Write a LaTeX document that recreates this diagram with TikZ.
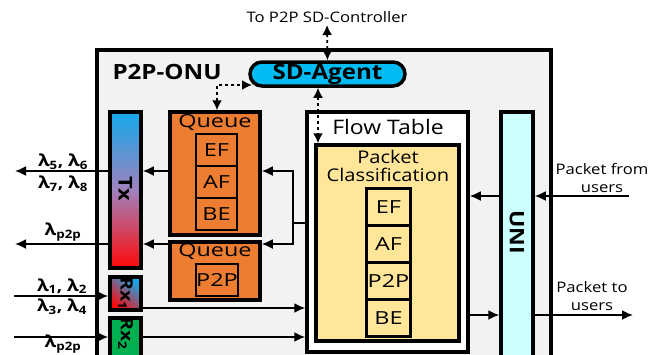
\documentclass[tikz,border=0pt]{standalone}
\usepackage{fontspec}
\setmainfont{Open Sans}[FakeStretch=1.15]
\newfontfamily\slotfont{Open Sans}[FakeStretch=1.3]
\usetikzlibrary{arrows.meta}
\definecolor{onugray}{HTML}{F2F2F2}
\definecolor{agentblue}{RGB}{0,188,242}
\definecolor{queueorange}{HTML}{ED7D31}
\definecolor{txblue}{RGB}{20,168,234}
\definecolor{txred}{RGB}{255,8,8}
\definecolor{rxgreen}{HTML}{00B050}
\definecolor{pcyellow}{HTML}{FFE699}
\definecolor{unicyan}{HTML}{CCFFFF}
\tikzset{
  blk/.style={draw, line width=3.5pt, inner sep=0pt},
  slot/.style={draw, line width=2.4pt, inner sep=0pt, font=\slotfont\fontsize{18}{18}\selectfont},
  ttl/.style={font=\slotfont\fontsize{18}{20}\selectfont},
  lbl/.style={font=\fontsize{14.5}{18}\selectfont, align=center},
  wl/.style={font=\bfseries\fontsize{16.5}{18}\selectfont},
  side/.style={rotate=-90, font=\bfseries\fontsize{19}{20}\selectfont},
  arr/.style={->, >={Latex[length=11pt,width=10pt]}, line width=1.8pt},
  ctl/.style={<->, >={Latex[length=10pt,width=10pt]}, line width=1.8pt, dash pattern=on 3pt off 3pt},
}
\begin{document}
\begin{tikzpicture}[x=1pt,y=-1pt]
\path[use as bounding box, fill=white] (0,0) rectangle (661,354);
\clip (0,0) rectangle (661,354);

\node[blk, fill=onugray, minimum width=454, minimum height=350] (onu) at (324,225) {};
\node[font=\bfseries\fontsize{21}{24}\selectfont] (onutitle) at (167,72) {P2P-ONU};
\node[lbl] (ctrl) at (327,17) {To P2P SD-Controller};
\node[blk, fill=agentblue, rounded corners=12, minimum width=155, minimum height=24,
  font=\bfseries\fontsize{21}{24}\selectfont] (agent) at (327.5,74) {SD-Agent};

\node[blk, top color=txblue, bottom color=txred, middle color={rgb,255:red,160;green,130;blue,190},
  minimum width=31, minimum height=156] (tx) at (125.5,190) {};
\node[side] (txlbl) at (125.5,189) {Tx};
\node[blk, top color=txblue, bottom color=txred, shading angle=-40,
  minimum width=31, minimum height=33] (rx1) at (125.5,293.5) {};
\node[side, font=\bfseries\fontsize{17}{18}\selectfont] (rx1lbl) at (125.5,293.5) {Rx\textsubscript{1}};
\node[blk, fill=rxgreen, minimum width=31, minimum height=44] (rx2) at (125.5,340) {};
\node[side, font=\bfseries\fontsize{17}{18}\selectfont] (rx2lbl) at (125.5,334) {Rx\textsubscript{2}};

\node[blk, fill=queueorange, minimum width=90, minimum height=123] (q1) at (215,173.5) {};
\node[ttl] (q1ttl) at (215,122) {Queue};
\node[slot, minimum width=41, minimum height=32] (ef1) at (216.5,150) {EF};
\node[slot, minimum width=41, minimum height=32] (af1) at (216.5,182) {AF};
\node[slot, minimum width=41, minimum height=32] (be1) at (216.5,214) {BE};
\node[blk, fill=queueorange, minimum width=90, minimum height=58] (q2) at (215,271) {};
\node[ttl] (q2ttl) at (215,251) {Queue};
\node[slot, minimum width=42, minimum height=32] (p2p1) at (217,280) {P2P};

\node[blk, fill=white, minimum width=161, minimum height=240] (ft) at (387.5,232) {};
\node[font=\fontsize{20}{22}\selectfont] (fttl) at (388,127) {Flow Table};
\node[blk, fill=pcyellow, minimum width=143, minimum height=196] (pc) at (387.5,243) {};
\node[font=\fontsize{17.5}{18}\selectfont, align=center] (pcttl) at (388,166) {Packet\\Classification};
\node[slot, minimum width=44, minimum height=37] (ef2) at (388.5,207) {EF};
\node[slot, minimum width=44, minimum height=37] (af2) at (388.5,244) {AF};
\node[slot, minimum width=44, minimum height=37] (p2p2) at (388.5,281) {P2P};
\node[slot, minimum width=44, minimum height=37] (be2) at (388.5,318) {BE};

\node[blk, fill=unicyan, minimum width=32, minimum height=288] (uni) at (517,256) {};
\node[side, font=\bfseries\fontsize{20}{22}\selectfont] (unilbl) at (517,232) {UNI};

\node[lbl] (fromlbl) at (602,178) {Packet from\\users};
\node[lbl] (tolbl) at (592,296) {Packet to\\users};
\node[wl] (l56) at (63,162) {λ\textsubscript{5}, λ\textsubscript{6}};
\node[wl] (l78) at (63,184) {λ\textsubscript{7}, λ\textsubscript{8}};
\node[wl] (lp1) at (63,232) {λ\textsubscript{p2p}};
\node[wl] (l12) at (62,286) {λ\textsubscript{1}, λ\textsubscript{2}};
\node[wl] (l34) at (62,307) {λ\textsubscript{3}, λ\textsubscript{4}};
\node[wl] (lp2) at (63,344) {λ\textsubscript{p2p}};

\coordinate (rowA) at (0,171);
\coordinate (rowB) at (0,244);
\coordinate (rowC) at (0,196);
\coordinate (rowD) at (0,315);
\coordinate (rowE) at (0,296);
\coordinate (rowF) at (0,308);
\coordinate (rowG) at (0,337);
\coordinate (split) at (293,223);
\coordinate (outA) at (15,171);
\coordinate (outB) at (15,244);
\coordinate (inE) at (14,296);
\coordinate (inG) at (14,337);
\coordinate (fromU) at (629,196);
\coordinate (toU) at (633,315);
\coordinate (ctrltop) at (327,25);
\coordinate (ftx) at (318,0);
\coordinate (agentin) at (252,85);

\draw[arr] (tx.west |- rowA) -- (outA);
\draw[arr] (tx.west |- rowB) -- (outB);
\draw[arr] (q1.west |- rowA) -- (tx.east |- rowA);
\draw[arr] (q2.west |- rowB) -- (tx.east |- rowB);
\draw[line width=1.8pt] (ft.west |- split) -- (split);
\draw[arr] (split) |- (q1.east |- rowA);
\draw[arr] (split) |- (q2.east |- rowB);
\draw[arr] (inE) -- (rx1.west |- rowE);
\draw[arr] (inG) -- (rx2.west |- rowG);
\draw[arr] (rx1.east |- rowF) -- (ft.west |- rowF);
\draw[arr] (rx2.east |- rowG) -- (ft.west |- rowG);
\draw[arr] (fromU) -- (uni.east |- rowC);
\draw[arr] (uni.west |- rowC) -- (ft.east |- rowC);
\draw[arr] (ft.east |- rowD) -- (uni.west |- rowD);
\draw[arr] (uni.east |- rowD) -- (toU);

\draw[ctl] (ctrltop) -- (agent.north);
\draw[ctl] (agent.south -| ftx) -- (pc.north -| ftx);
\draw[ctl] (q1.north -| 217,0) |- (agentin);
\end{tikzpicture}
\end{document}
